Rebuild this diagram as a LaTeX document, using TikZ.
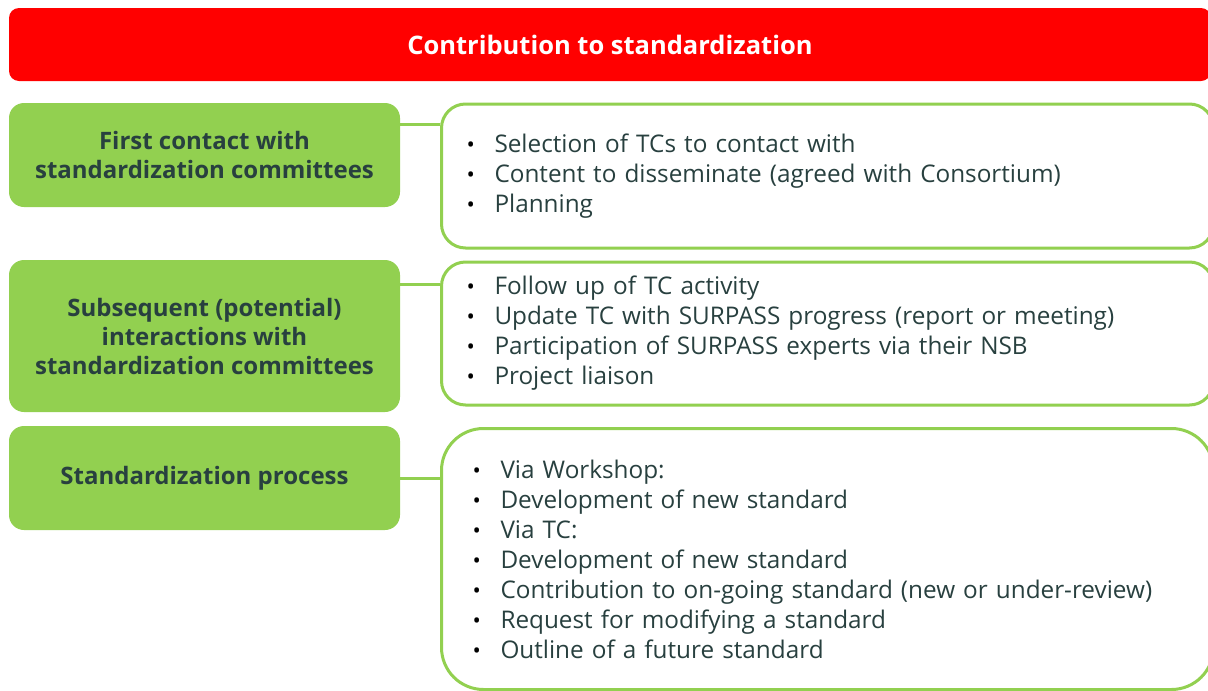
\documentclass[tikz,border=0pt]{standalone}
\usepackage{fontspec}
\setmainfont{Open Sans}
\usetikzlibrary{positioning}

\definecolor{barred}{HTML}{FF0000}
\definecolor{leafgreen}{HTML}{92D050}
\definecolor{inkslate}{HTML}{28403F}

\newcommand{\bul}{\makebox[28pt][l]{\color{black}\fontsize{22}{22}\selectfont\textbullet}}

\tikzset{
  titlebar/.style={fill=barred,rounded corners=10pt,minimum width=1202pt,minimum height=73pt,
    text=white,font=\fontsize{25.5}{28}\selectfont\bfseries},
  topicbox/.style={fill=leafgreen,rounded corners=15pt,minimum width=391pt,
    text=inkslate,align=center,font=\fontsize{24}{29}\selectfont\bfseries},
  listbox/.style={draw=leafgreen,line width=3pt,fill=white,anchor=west,inner xsep=25pt,
    text width=722pt,minimum width=772pt,align=left,text=inkslate,
    font=\fontsize{24.3}{30}\selectfont},
  link/.style={draw=leafgreen,line width=3pt}
}

\begin{document}
\begin{tikzpicture}[x=1pt,y=-1pt]
  \useasboundingbox (0,0) rectangle (1208,691);

  \node[titlebar] (title) at (610,44.5) {Contribution to standardization};

  \node[topicbox,minimum height=104pt] (first) at (204.5,155) {First contact with\\standardization committees};
  \node[topicbox,minimum height=152pt] (later) at (204.5,336) {Subsequent (potential)\\interactions with\\standardization committees};
  \node[topicbox,minimum height=104pt] (process) at (204.5,478) {Standardization process};

  \node[listbox,minimum height=144pt,rounded corners=24pt] (firstlist) at (440,176)
    {\bul Selection of TCs to contact with\\
     \bul Content to disseminate (agreed with Consortium)\\
     \bul Planning};
  \node[listbox,minimum height=143pt,rounded corners=24pt] (laterlist) at (440,333.5)
    {\bul Follow up of TC activity\\
     \bul Update TC with SURPASS progress (report or meeting)\\
     \bul Participation of SURPASS experts via their NSB\\
     \bul Project liaison};
  \node[listbox,minimum height=261pt,rounded corners=42pt,inner xsep=31pt,text width=710pt] (processlist) at (440,559)
    {\bul Via Workshop:\\
     \bul Development of new standard\\
     \bul Via TC:\\
     \bul Development of new standard\\
     \bul Contribution to on-going standard (new or under-review)\\
     \bul Request for modifying a standard\\
     \bul Outline of a future standard};

  % connectors
  \coordinate (c1) at ([yshift=-22pt]first.north east);
  \coordinate (c2) at ([yshift=-25pt]later.north east);
  \draw[link] (c1) -- (c1 -| firstlist.west);
  \draw[link] (c2) -- (c2 -| laterlist.west);
  \draw[link] (process.east) -- (process.east -| processlist.west);
\end{tikzpicture}
\end{document}
